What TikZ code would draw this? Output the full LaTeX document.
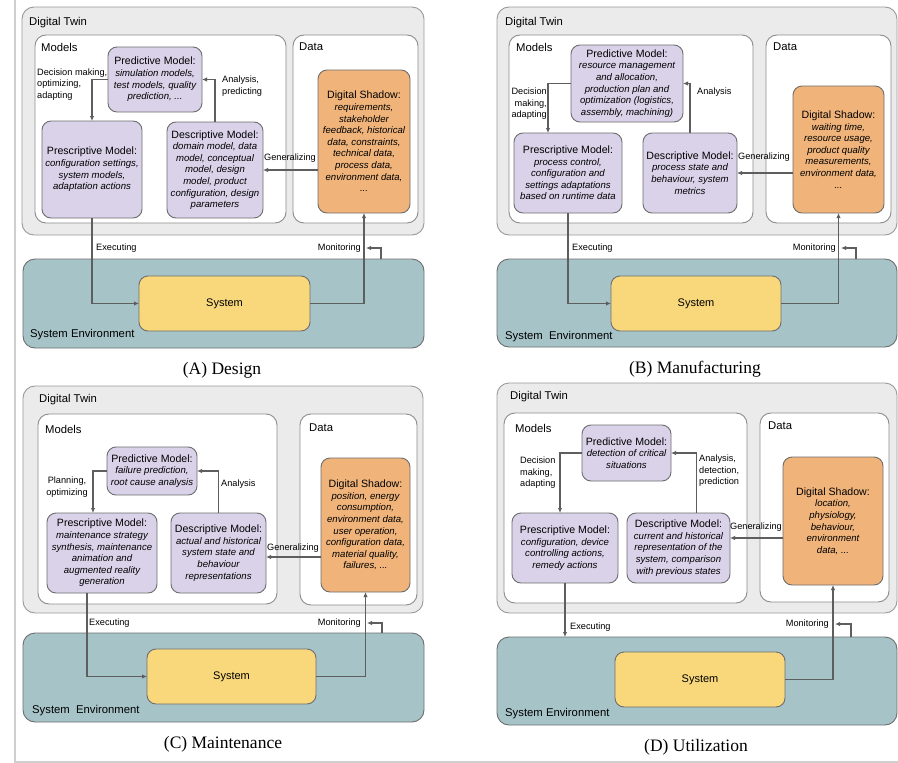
\documentclass[tikz,border=0pt]{standalone}
\usepackage{fontspec}
\setmainfont{Liberation Sans}
\newfontfamily\capfont{Liberation Serif}
\usetikzlibrary{arrows.meta}

\definecolor{twinfill}{HTML}{EBEBEB}
\definecolor{twinline}{HTML}{9A9A9A}
\definecolor{innerline}{HTML}{8C8C8C}
\definecolor{modelfill}{HTML}{D9D2E9}
\definecolor{shadowfill}{HTML}{F0B47B}
\definecolor{envfill}{HTML}{A6C3C7}
\definecolor{sysfill}{HTML}{F9D87C}
\definecolor{boxline}{HTML}{6E6E6E}
\definecolor{arrowcol}{HTML}{5E5E5E}
\definecolor{edgecol}{HTML}{CFCFCF}

\newcommand\titlefont{\upshape\fontsize{10.6}{11.6}\selectfont}
\newcommand\bodyfont{\itshape\fontsize{9.6}{11.6}\selectfont}

% box given by its corners: name, style, x1, y1, x2, y2, text
\newcommand\rbox[7]{%
  \node[#2, minimum width={#5-#3}, minimum height={#6-#4}] (#1)
    at ({(#3+#5)/2},{(#4+#6)/2}) {#7};}

\tikzset{
  twin/.style={draw=twinline, fill=twinfill, rounded corners=12pt, line width=0.9pt, outer sep=0pt},
  panel/.style={draw=innerline, fill=white, rounded corners=11pt, line width=0.9pt, outer sep=0pt},
  model/.style={draw=boxline, fill=modelfill, rounded corners=9pt, line width=0.9pt,
    align=center, font=\bodyfont, inner sep=2pt, outer sep=0pt},
  shadowbox/.style={model, fill=shadowfill},
  envbox/.style={draw=boxline, fill=envfill, rounded corners=12pt, line width=0.9pt, outer sep=0pt},
  sysbox/.style={draw=boxline, fill=sysfill, rounded corners=9pt, line width=0.9pt,
    outer sep=0pt, font=\fontsize{11}{13}\selectfont},
  heading/.style={anchor=west, inner sep=0pt, font=\fontsize{11.3}{13}\selectfont},
  flowlabel/.style={inner sep=0pt, font=\fontsize{9.2}{11.4}\selectfont},
  arr/.style={draw=arrowcol, line width=1.4pt, -{Latex[length=5pt,width=4.5pt]}},
  captxt/.style={font=\capfont\fontsize{17.5}{20}\selectfont},
  pageedge/.style={draw=edgecol, line width=1.6pt},
}

\begin{document}
\begin{tikzpicture}[x=1pt,y=-1pt]
\useasboundingbox (0,0) rectangle (898,763);
\draw[pageedge] (15,0) -- (15,762) -- (898,762);

% ================= (A) Design =================
\rbox{twinA}{twin}{22}{7}{424}{235}{}
\node[heading] (twinAl) at (29,23) {Digital Twin};
\rbox{modA}{panel}{35}{35}{286}{223}{}
\node[heading] (modAl) at (41,47) {Models};
\rbox{datA}{panel}{293}{35}{418}{223}{}
\node[heading] (datAl) at (299,47) {Data};
\rbox{predA}{model}{108}{47}{202}{112}{{\titlefont Predictive Model:}\\simulation models,\\test models, quality\\prediction, ...}
\rbox{presA}{model}{42}{121}{142}{218}{{\titlefont Prescriptive Model:}\\configuration settings,\\system models,\\adaptation actions}
\rbox{descA}{model}{167}{122}{263}{218}{{\titlefont Descriptive Model:}\\domain model, data\\model, conceptual\\model, design\\model, product\\configuration, design\\parameters}
\rbox{shadA}{shadowbox}{318}{70}{410}{213}{{\titlefont Digital Shadow:}\\requirements,\\stakeholder\\feedback, historical\\data, constraints,\\technical data,\\process data,\\environment data,\\...}
\rbox{envA}{envbox}{23}{259}{424}{348}{}
\node[heading] (envAl) at (30,335) {System Environment};
\rbox{sysA}{sysbox}{139}{276}{310}{331}{System}

\draw[arr] (predA.west) -| (presA.north);
\draw[arr] (descA.north) |- (predA.east);
\draw[arr] (descA.east -| shadA.west) -- (descA.east);
\draw[arr] (presA.south) |- (sysA.west);
\draw[arr] (sysA.east) -| (shadA.south);
\coordinate (mfootA) at (381,259);
\coordinate (mtipA) at (366,248);
\draw[arr] (mfootA) |- (mtipA);

\node[flowlabel, anchor=west, align=left] (decA) at (37,84.5) {Decision making,\\optimizing,\\adapting};
\node[flowlabel, anchor=west, align=left] (anaA) at (222,86) {Analysis,\\predicting};
\node[flowlabel] (genA) at (290,158) {Generalizing};
\node[flowlabel, anchor=west] (exeA) at (96,248) {Executing};
\node[flowlabel, anchor=east] (monA) at (361,248) {Monitoring};
\node[captxt] (capA) at (222,370) {(A) Design};

% ================= (B) Manufacturing =================
\rbox{twinB}{twin}{497}{7}{897}{235}{}
\node[heading] (twinBl) at (505,23) {Digital Twin};
\rbox{modB}{panel}{509}{35}{753}{223}{}
\node[heading] (modBl) at (516,47) {Models};
\rbox{datB}{panel}{766}{35}{891}{223}{}
\node[heading] (datBl) at (773,47) {Data};
\rbox{predB}{model}{571}{45}{683}{122}{{\titlefont Predictive Model:}\\resource management\\and allocation,\\production plan and\\optimization (logistics,\\assembly, machining)}
\rbox{presB}{model}{514}{133}{622}{213}{{\titlefont Prescriptive Model:}\\process control,\\configuration and\\settings adaptations\\based on runtime data}
\rbox{descB}{model}{643}{133}{737}{213}{{\titlefont Descriptive Model:}\\process state and\\behaviour, system\\metrics}
\rbox{shadB}{shadowbox}{793}{86}{884}{213}{{\titlefont Digital Shadow:}\\waiting time,\\resource usage,\\product quality\\measurements,\\environment data,\\...}
\rbox{envB}{envbox}{497}{259}{897}{347}{}
\node[heading] (envBl) at (505,337) {System~ Environment};
\rbox{sysB}{sysbox}{611}{276}{781}{331}{System}

\draw[arr] (predB.west) -| ([xshift=-20pt]presB.north);
\draw[arr] (descB.north) |- (predB.east);
\draw[arr] (descB.east -| shadB.west) -- (descB.east);
\draw[arr] (presB.south) |- (sysB.west);
\draw[arr] (sysB.east) -| (shadB.south);
\coordinate (mfootB) at (856,259);
\coordinate (mtipB) at (841,248);
\draw[arr] (mfootB) |- (mtipB);

\node[flowlabel, anchor=east, align=right] (decB) at (547,104) {Decision\\making,\\adapting};
\node[flowlabel, anchor=west] (anaB) at (697,92) {Analysis};
\node[flowlabel] (genB) at (764,157) {Generalizing};
\node[flowlabel, anchor=west] (exeB) at (572,248) {Executing};
\node[flowlabel, anchor=east] (monB) at (836,248) {Monitoring};
\node[captxt] (capB) at (695,369) {(B) Manufacturing};

% ================= (C) Maintenance =================
\rbox{twinC}{twin}{23}{386}{423}{613}{}
\node[heading] (twinCl) at (39,400) {Digital Twin};
\rbox{modC}{panel}{38}{414}{277}{604}{}
\node[heading] (modCl) at (45,429) {Models};
\rbox{datC}{panel}{300}{414}{417}{605}{}
\node[heading] (datCl) at (309,428) {Data};
\rbox{predC}{model}{107}{447}{197}{495}{{\titlefont Predictive Model:}\\failure prediction,\\root cause analysis}
\rbox{presC}{model}{47}{513}{157}{593}{{\titlefont Prescriptive Model:}\\maintenance strategy\\synthesis, maintenance\\animation and\\augmented reality\\generation}
\rbox{descC}{model}{171}{513}{266}{593}{{\titlefont Descriptive Model:}\\actual and historical\\system state and\\behaviour\\representations}
\rbox{shadC}{shadowbox}{321}{458}{410}{592}{{\titlefont Digital Shadow:}\\position, energy\\consumption,\\environment data,\\user operation,\\configuration data,\\material quality,\\failures, ...}
\rbox{envC}{envbox}{23}{633}{424}{722}{}
\node[heading] (envCl) at (32,711) {System~ Environment};
\rbox{sysC}{sysbox}{147}{649}{316}{704}{System}

\draw[arr] (predC.west) -| ([xshift=-9pt]presC.north);
\draw[arr] (descC.north) |- (predC.east);
\coordinate (gC) at ([yshift=-4pt]descC.east);
\draw[arr] (gC -| shadC.west) -- (gC);
\draw[arr] ([xshift=-15pt]presC.south) |- (sysC.west);
\draw[arr] (sysC.east) -| (shadC.south);
\coordinate (mfootC) at (382,633);
\coordinate (mtipC) at (367,623);
\draw[arr] (mfootC) |- (mtipC);

\node[flowlabel, align=center] (decC) at (67,487) {Planning,\\optimizing};
\node[flowlabel, anchor=west] (anaC) at (221,484) {Analysis};
\node[flowlabel] (genC) at (293,548) {Generalizing};
\node[flowlabel, anchor=west] (exeC) at (89,623) {Executing};
\node[flowlabel, anchor=east] (monC) at (361,623) {Monitoring};
\node[captxt] (capC) at (223,744) {(C) Maintenance};

% ================= (D) Utilization =================
\rbox{twinD}{twin}{497}{383}{897}{613}{}
\node[heading] (twinDl) at (510,397) {Digital Twin};
\rbox{modD}{panel}{504}{413}{747}{603}{}
\node[heading] (modDl) at (515,428) {Models};
\rbox{datD}{panel}{760}{413}{889}{602}{}
\node[heading] (datDl) at (768,426) {Data};
\rbox{predD}{model}{582}{425}{671}{481}{{\titlefont Predictive Model:}\\detection of critical\\situations}
\rbox{presD}{model}{512}{513}{618}{583}{{\titlefont Prescriptive Model:}\\configuration, device\\controlling actions,\\remedy actions}
\rbox{descD}{model}{627}{513}{730}{583}{{\titlefont Descriptive Model:}\\current and historical\\representation of the\\system, comparison\\with previous states}
\rbox{shadD}{shadowbox}{783}{457}{883}{585}{{\titlefont Digital Shadow:}\\location,\\physiology,\\behaviour,\\environment\\data, ...}
\rbox{envD}{envbox}{497}{637}{897}{725}{}
\node[heading] (envDl) at (505,714) {System Environment};
\rbox{sysD}{sysbox}{615}{652}{785}{707}{System}

\draw[arr] (predD.west) -| ([xshift=-5pt]presD.north);
\draw[arr] ([xshift=18pt]descD.north) |- (predD.east);
\coordinate (gD) at ([yshift=10pt]descD.east);
\draw[arr] (gD -| shadD.west) -- (gD);
\draw[arr] (presD.south) -- (presD.south |- envD.north);
\draw[arr] (sysD.east) -| (shadD.south);
\coordinate (mfootD) at (851,637);
\coordinate (mtipD) at (835,624);
\draw[arr] (mfootD) |- (mtipD);

\node[flowlabel, anchor=west, align=left] (decD) at (520,473) {Decision\\making,\\adapting};
\node[flowlabel, anchor=west, align=left] (anaD) at (699,471) {Analysis,\\detection,\\prediction};
\node[flowlabel] (genD) at (756,527) {Generalizing};
\node[flowlabel, anchor=west] (exeD) at (570,627) {Executing};
\node[flowlabel, anchor=east] (monD) at (829,624) {Monitoring};
\node[captxt] (capD) at (696,747) {(D) Utilization};
\end{tikzpicture}
\end{document}
